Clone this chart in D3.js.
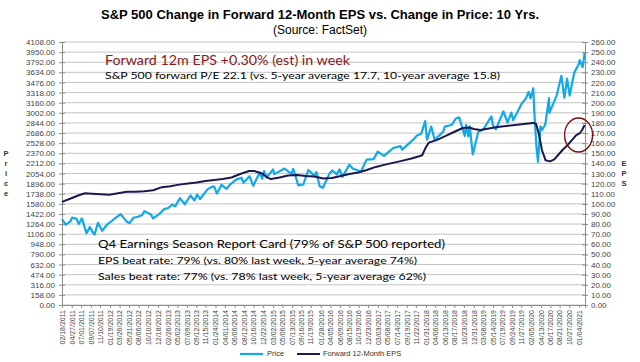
<!DOCTYPE html>
<html>
<head>
<meta charset="utf-8">
<script src="https://cdn.jsdelivr.net/npm/d3@7"></script>
<style>
body { margin: 0; background: #fff; }
svg { display: block; font-family: "Liberation Sans", Arial, sans-serif; }
</style>
</head>
<body>
<div id="chart"></div>
<script>
// S&P 500 price (selected closes incl. swing highs / lows)
var priceDates = ["2011-02-18","2011-03-16","2011-04-18","2011-04-29","2011-05-31","2011-06-15","2011-07-07","2011-08-08","2011-08-31","2011-09-22","2011-10-03","2011-10-27","2011-11-25","2011-12-30",
  "2012-01-31","2012-02-29","2012-04-02","2012-05-18","2012-06-04","2012-06-29","2012-07-31","2012-08-31","2012-09-14","2012-10-31","2012-11-15","2012-12-31",
  "2013-01-31","2013-02-28","2013-03-28","2013-04-18","2013-05-21","2013-06-24","2013-08-02","2013-08-30","2013-09-18","2013-10-08","2013-11-29","2013-12-31",
  "2014-01-15","2014-02-03","2014-03-07","2014-04-11","2014-05-13","2014-06-20","2014-07-24","2014-08-07","2014-09-18","2014-10-15","2014-11-28","2014-12-16","2014-12-29",
  "2015-01-15","2015-03-02","2015-03-10","2015-05-21","2015-07-08","2015-07-20","2015-08-25","2015-09-29","2015-11-03","2015-12-14","2015-12-29",
  "2016-01-20","2016-02-11","2016-03-31","2016-04-20","2016-05-19","2016-06-08","2016-06-27","2016-08-15","2016-09-09","2016-11-04","2016-12-13",
  "2017-01-31","2017-03-01","2017-04-13","2017-06-19","2017-08-07","2017-08-18","2017-10-31","2017-11-30","2017-12-29",
  "2018-01-26","2018-02-08","2018-03-09","2018-04-02","2018-05-31","2018-06-12","2018-07-31","2018-08-29","2018-09-20","2018-10-29","2018-11-07","2018-11-23","2018-12-03","2018-12-24",
  "2019-01-31","2019-03-08","2019-05-03","2019-05-13","2019-06-03","2019-07-26","2019-08-23","2019-09-19","2019-10-02","2019-11-29","2019-12-31",
  "2020-01-17","2020-01-31","2020-02-19","2020-02-28","2020-03-12","2020-03-23","2020-04-09","2020-04-21","2020-05-13","2020-06-08","2020-06-11","2020-07-31","2020-09-02","2020-09-23","2020-10-12","2020-10-30","2020-11-30","2020-12-31",
  "2021-01-08","2021-01-29","2021-02-11"];
var priceValues = [1343,1256,1305,1364,1345,1265,1353,1119,1219,1129,1099,1285,1159,1258,
  1312,1366,1419,1295,1278,1362,1379,1407,1466,1412,1353,1426,
  1498,1515,1569,1541,1669,1573,1710,1633,1725,1656,1806,1848,
  1848,1742,1878,1815,1897,1962,1988,1910,2011,1862,2068,1972,2091,
  1992,2117,2044,2131,2046,2128,1868,1884,2109,2021,2078,
  1859,1829,2060,2102,2040,2119,2001,2191,2128,2085,2271,
  2279,2396,2329,2453,2481,2426,2575,2648,2674,
  2873,2581,2786,2582,2705,2787,2816,2914,2931,2641,2814,2633,2790,2351,
  2704,2743,2946,2812,2744,3026,2847,3006,2887,3141,3231,
  3330,3226,3386,2954,2481,2237,2790,2737,2820,3232,3002,3271,3580,3237,3535,3270,3622,3756,
  3824,3714,3934];

// forward 12-month EPS
var epsDates = ["2011-02-18","2011-04-15","2011-06-15","2011-07-29","2011-09-15","2011-11-15",
  "2012-01-15","2012-03-15","2012-05-15","2012-07-15","2012-09-15","2012-11-15",
  "2013-01-15","2013-03-15","2013-05-15","2013-07-15","2013-09-15","2013-11-15",
  "2014-01-15","2014-03-15","2014-05-15","2014-07-15","2014-09-15","2014-10-20","2014-12-15",
  "2015-01-15","2015-02-15","2015-04-15","2015-06-15","2015-08-15","2015-10-15","2015-12-15",
  "2016-02-15","2016-04-15","2016-06-15","2016-08-15","2016-10-15","2016-12-15",
  "2017-02-15","2017-04-15","2017-06-15","2017-08-15","2017-10-15","2017-12-15",
  "2018-01-05","2018-01-31","2018-02-20","2018-04-15","2018-06-15","2018-08-15","2018-10-15","2018-11-30","2018-12-31",
  "2019-02-15","2019-04-15","2019-06-15","2019-08-15","2019-10-15","2019-12-15",
  "2020-02-20","2020-03-10","2020-03-31","2020-04-20","2020-05-15","2020-06-15","2020-07-15","2020-08-15","2020-09-15","2020-10-15","2020-11-15","2020-12-15",
  "2021-01-10","2021-01-25","2021-02-11"];
var epsValues = [102,105,108.5,110.5,110,109.5,
  109,110.5,112,112,112.5,113.5,
  116.5,117.5,119,120,121,122.5,
  123.5,124.5,126,129.5,132.5,132.5,130,
  126.5,124.5,126,128,128.5,127.5,127,
  125,125.5,127.5,129.5,131,133.5,
  136.5,138.5,140.5,142.5,144.5,147,
  148,156,160.5,163,167,171,175,175.5,174,
  173,174.5,176,177,178,179,
  180,179,168,153,143,142,144,149,154,158,163,168,
  170,173,178];

var priceTicks = d3.range(0, 4108 + 1, 158);
var epsTicks = d3.range(0, 261, 10);
var xLabels = ["02/18/2011","04/27/2011","07/01/2011","09/07/2011","11/10/2011","01/19/2012","03/26/2012","05/31/2012","08/06/2012","10/10/2012","12/18/2012",
  "02/26/2013","05/02/2013","07/09/2013","09/12/2013","11/15/2013","01/24/2014","04/01/2014","06/06/2014","08/12/2014","10/16/2014","12/22/2014",
  "03/02/2015","05/06/2015","07/13/2015","09/16/2015","11/19/2015","01/28/2016","04/05/2016","06/09/2016","08/15/2016","10/19/2016","12/23/2016",
  "03/03/2017","05/08/2017","07/14/2017","09/19/2017","11/22/2017","01/31/2018","04/06/2018","06/13/2018","08/17/2018","10/23/2018","12/31/2018",
  "03/08/2019","05/14/2019","07/19/2019","09/24/2019","11/27/2019","02/05/2020","04/13/2020","06/17/2020","08/21/2020","10/27/2020","01/04/2021"];

var svgW = 640, svgH = 362;
var margin = { top: 42, right: 55, bottom: 57, left: 62 };
var w = svgW - margin.left - margin.right;
var h = svgH - margin.top - margin.bottom;

var parseIso = d3.timeParse("%Y-%m-%d");
var parseUs = d3.timeParse("%m/%d/%Y");

var priceData = priceDates.map((d, i) => ({ date: parseIso(d), v: priceValues[i] }));
var epsData = epsDates.map((d, i) => ({ date: parseIso(d), v: epsValues[i] }));

var svg = d3.select("#chart").append("svg")
    .attr("width", svgW).attr("height", svgH);

var x = d3.scaleTime()
    .domain([parseIso("2011-02-18"), parseIso("2021-02-14")]).range([0, w]);
var yPrice = d3.scaleLinear().domain([0, 4108]).range([h, 0]);
var yEps = d3.scaleLinear().domain([0, 260]).range([h, 0]);

// title
svg.append("text").attr("x", 320).attr("y", 19).attr("text-anchor", "middle")
    .attr("font-size", 13).attr("font-weight", "bold").attr("fill", "#000")
    .text("S&P 500 Change in Forward 12-Month EPS vs. Change in Price: 10 Yrs.");
svg.append("text").attr("x", 320).attr("y", 34).attr("text-anchor", "middle")
    .attr("font-size", 12).attr("fill", "#000")
    .text("(Source: FactSet)");

var g = svg.append("g")
    .attr("transform", `translate(${margin.left}, ${margin.top})`);

// gridlines
g.append("g").selectAll("line").data(priceTicks).enter().append("line")
    .attr("x1", 0).attr("x2", w)
    .attr("y1", d => yPrice(d)).attr("y2", d => yPrice(d))
    .attr("stroke", "#c4c4c4").attr("stroke-width", 1);

// axes
var leftAxis = g.append("g")
    .call(d3.axisLeft(yPrice).tickValues(priceTicks).tickFormat(d3.format(".2f")).tickSize(3).tickPadding(4));
var rightAxis = g.append("g").attr("transform", `translate(${w}, 0)`)
    .call(d3.axisRight(yEps).tickValues(epsTicks).tickFormat(d3.format(".2f")).tickSize(3).tickPadding(4));
[leftAxis, rightAxis].forEach(function(a) {
    a.select(".domain").attr("stroke", "#8c8c8c");
    a.selectAll(".tick line").attr("x1", -3).attr("x2", 3).attr("stroke", "#8c8c8c");
    a.selectAll(".tick text").attr("font-size", 8).attr("fill", "#444")
        .attr("font-family", "Liberation Sans, Arial, sans-serif");
});
leftAxis.selectAll(".tick text").attr("x", -7);
rightAxis.selectAll(".tick text").attr("x", 6);

var bottomAxis = g.append("g").attr("transform", `translate(0, ${h})`)
    .call(d3.axisBottom(x).tickValues(xLabels.map(parseUs)).tickFormat(d3.timeFormat("%m/%d/%Y")).tickSize(3).tickPadding(2));
bottomAxis.select(".domain").attr("stroke", "#8c8c8c");
bottomAxis.selectAll(".tick line").attr("stroke", "#8c8c8c");
bottomAxis.selectAll(".tick text")
    .attr("font-size", 7).attr("fill", "#444").attr("font-family", "Liberation Sans, Arial, sans-serif")
    .attr("transform", "rotate(-90)").attr("text-anchor", "end")
    .attr("x", -5).attr("y", 0).attr("dy", "0.33em");

// lines
var priceLine = d3.line().x(d => x(d.date)).y(d => yPrice(d.v));
var epsLine = d3.line().x(d => x(d.date)).y(d => yEps(d.v));

g.append("path").datum(priceData).attr("d", priceLine)
    .attr("fill", "none").attr("stroke", "#12a9e8").attr("stroke-width", 2.2).attr("stroke-linejoin", "round");
g.append("path").datum(epsData).attr("d", epsLine)
    .attr("fill", "none").attr("stroke", "#191950").attr("stroke-width", 2).attr("stroke-linejoin", "round");

// red circle round the latest eps
var last = epsData[epsData.length - 1];
g.append("ellipse").attr("cx", x(last.date) - 6).attr("cy", yEps(last.v) + 10)
    .attr("rx", 14).attr("ry", 17)
    .attr("fill", "none").attr("stroke", "#7a1212").attr("stroke-width", 1.4);

// axis titles, stacked letters
"Price".split("").forEach(function(c, i) {
    svg.append("text").attr("x", 6).attr("y", 156 + i * 10.1).attr("text-anchor", "middle")
        .attr("font-size", 7.5).attr("font-weight", "bold").attr("fill", "#333").text(c);
});
"EPS".split("").forEach(function(c, i) {
    svg.append("text").attr("x", 624).attr("y", 166 + i * 10.1).attr("text-anchor", "middle")
        .attr("font-size", 7.5).attr("font-weight", "bold").attr("fill", "#333").text(c);
});

// annotation text
var notes = [
    { t: "Forward 12m EPS +0.30% (est) in week", x: 105, y: 64.5, size: 12.5, len: 245, c: "#8b1a1a" },
    { t: "S&P 500 forward P/E 22.1 (vs. 5-year average 17.7, 10-year average 15.8)", x: 105, y: 79, size: 10, len: 395, c: "#000" },
    { t: "Q4 Earnings Season Report Card (79% of S&P 500 reported)", x: 98, y: 248, size: 11.5, len: 347, c: "#000" },
    { t: "EPS beat rate: 79% (vs. 80% last week, 5-year average 74%)", x: 98, y: 264, size: 10.2, len: 319, c: "#000" },
    { t: "Sales beat rate: 77% (vs. 78% last week, 5-year average 62%)", x: 98, y: 280, size: 10.2, len: 328, c: "#000" }
];
svg.selectAll("text.note").data(notes).enter().append("text").attr("class", "note")
    .attr("x", d => d.x).attr("y", d => d.y)
    .attr("font-family", "Lato, 'Open Sans', sans-serif")
    .attr("font-size", d => d.size).attr("fill", d => d.c)
    .attr("textLength", d => d.len).attr("lengthAdjust", "spacingAndGlyphs")
    .text(d => d.t);

// legend
var legend = svg.append("g").attr("transform", "translate(240, 354)");
legend.append("line").attr("x1", 0).attr("x2", 23).attr("stroke", "#12a9e8").attr("stroke-width", 2.2);
legend.append("text").attr("x", 27).attr("dy", "0.33em").attr("font-size", 7.5).attr("fill", "#333").text("Price");
legend.append("line").attr("x1", 57).attr("x2", 80).attr("stroke", "#191950").attr("stroke-width", 2);
legend.append("text").attr("x", 83).attr("dy", "0.33em").attr("font-size", 7.5).attr("fill", "#333").text("Forward 12-Month EPS");
</script>
</body>
</html>
